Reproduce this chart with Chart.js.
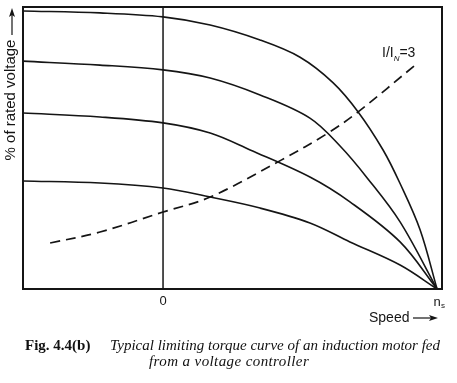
<!DOCTYPE html>
<html>
<head>
<meta charset="utf-8">
<script src="https://cdn.jsdelivr.net/npm/chart.js@4.4.0/dist/chart.umd.min.js"></script>
<style>
  body { margin: 0; background: #fff; }
  #wrap { position: relative; width: 457px; height: 383px; }
  .cap { position: absolute; font-family: "Liberation Serif", serif; font-size: 15px; color: #111; white-space: nowrap; }
  .fig { font-weight: bold; left: 25px; top: 337px; }
  .l1 { font-style: italic; left: 110px; top: 337px; }
  .l2 { font-style: italic; left: 149px; top: 353px; letter-spacing: 0.4px; }
</style>
</head>
<body>
<div id="wrap">
  <canvas id="chart" width="457" height="383"></canvas>
  <div class="cap fig">Fig. 4.4(b)</div>
  <div class="cap l1">Typical limiting torque curve of an induction motor fed</div>
  <div class="cap l2">from a voltage controller</div>
</div>
<script>
// speed as fraction of n_s, torque as % of the plot height
const speedA = [-0.511, -0.23, 0, 0.172, 0.354, 0.5, 0.62, 0.712, 0.803, 0.865, 0.938, 1];
const torqueA = [98.6, 97.9, 96.5, 93.6, 88.3, 82.2, 73.2, 62.8, 49.3, 37.4, 21.0, 0];

const speedB = [-0.511, -0.23, 0, 0.172, 0.354, 0.536, 0.646, 0.745, 0.865, 1];
const torqueB = [80.8, 79.4, 77.7, 74.8, 68.8, 60.6, 50.7, 39.4, 23.8, 0];

const speedC = [-0.511, -0.23, 0, 0.172, 0.318, 0.536, 0.682, 0.865, 1];
const torqueC = [62.4, 61.0, 58.9, 55.3, 49.3, 39.7, 30.9, 16.7, 0];

const speedD = [-0.511, -0.23, 0, 0.172, 0.354, 0.536, 0.682, 0.865, 1];
const torqueD = [38.3, 37.6, 35.8, 32.6, 28.7, 23.4, 16.7, 8.5, 0];

// limiting curve I/I_N = 3
const speedLim = [-0.412, -0.23, 0, 0.172, 0.431, 0.602, 0.712, 0.92];
const torqueLim = [16.3, 20.2, 27.3, 32.6, 45.7, 55.3, 62.8, 79.4];

const xTicks = ['0', 'n'];

const ink = '#151515';

function pts(xs, ys) {
    return xs.map((x, i) => ({ x: x, y: ys[i] }));
}

function curve(xs, ys, dashed) {
    return {
        data: pts(xs, ys),
        showLine: true,
        borderColor: ink,
        borderWidth: dashed ? 1.7 : 1.6,
        borderDash: dashed ? [10, 6] : [],
        pointRadius: 0,
        tension: 0.35,
        fill: false,
    };
}

function arrowHead(ctx, x, y, dir) {
    // dir: 'right' or 'up'
    ctx.beginPath();
    if (dir === 'right') {
        ctx.moveTo(x, y);
        ctx.lineTo(x - 9, y - 3);
        ctx.lineTo(x - 7, y);
        ctx.lineTo(x - 9, y + 3);
    } else {
        ctx.moveTo(x, y);
        ctx.lineTo(x - 3, y + 9);
        ctx.lineTo(x, y + 7);
        ctx.lineTo(x + 3, y + 9);
    }
    ctx.closePath();
    ctx.fill();
}

const decor = {
    id: 'decor',
    afterDraw(chart) {
        const { ctx, chartArea: a, scales } = chart;
        const x0 = scales.x.getPixelForValue(0);
        const xs = scales.x.getPixelForValue(1);
        ctx.save();
        ctx.strokeStyle = ink;
        ctx.fillStyle = ink;

        // frame
        ctx.lineWidth = 2;
        ctx.strokeRect(a.left, a.top, a.right - a.left, a.bottom - a.top);
        // zero-speed line
        ctx.lineWidth = 1.5;
        ctx.beginPath();
        ctx.moveTo(x0, a.top);
        ctx.lineTo(x0, a.bottom);
        ctx.stroke();

        // tick labels
        ctx.font = '13px "Liberation Sans", Arial, sans-serif';
        ctx.textAlign = 'center';
        ctx.textBaseline = 'middle';
        ctx.fillText(xTicks[0], x0, a.bottom + 12);
        ctx.fillText(xTicks[1], xs, a.bottom + 13);
        ctx.font = '8px "Liberation Sans", Arial, sans-serif';
        ctx.fillText('s', xs + 6, a.bottom + 17);

        // x axis title
        ctx.font = '14px "Liberation Sans", Arial, sans-serif';
        ctx.textAlign = 'left';
        ctx.fillText('Speed', 369, 318);
        ctx.lineWidth = 1.2;
        ctx.beginPath();
        ctx.moveTo(413, 318);
        ctx.lineTo(432, 318);
        ctx.stroke();
        arrowHead(ctx, 438, 318, 'right');

        // y axis title
        ctx.save();
        ctx.translate(11, 100);
        ctx.rotate(-Math.PI / 2);
        ctx.font = '15px "Liberation Sans", Arial, sans-serif';
        ctx.textAlign = 'center';
        ctx.fillText('% of rated voltage', 0, 0);
        ctx.restore();
        ctx.beginPath();
        ctx.moveTo(12, 35);
        ctx.lineTo(12, 14);
        ctx.stroke();
        arrowHead(ctx, 12, 8, 'up');

        // curve label I/I_N=3
        ctx.font = '14px "Liberation Sans", Arial, sans-serif';
        ctx.textAlign = 'left';
        ctx.textBaseline = 'alphabetic';
        let tx = 382;
        ctx.fillText('I/I', tx, 57);
        tx += ctx.measureText('I/I').width;
        ctx.font = 'italic 8px "Liberation Sans", Arial, sans-serif';
        ctx.fillText('N', tx, 61);
        tx += ctx.measureText('N').width;
        ctx.font = '14px "Liberation Sans", Arial, sans-serif';
        ctx.fillText('=3', tx, 57);

        ctx.restore();
    }
};

new Chart(document.getElementById('chart').getContext('2d'), {
    type: 'scatter',
    data: {
        datasets: [
            curve(speedA, torqueA, false),
            curve(speedB, torqueB, false),
            curve(speedC, torqueC, false),
            curve(speedD, torqueD, false),
            curve(speedLim, torqueLim, true),
        ]
    },
    options: {
        responsive: false,
        animation: false,
        layout: { padding: { left: 23, right: 15, top: 7, bottom: 94 } },
        plugins: { legend: { display: false }, tooltip: { enabled: false } },
        scales: {
            x: { type: 'linear', min: -0.511, max: 1.018, display: false },
            y: { type: 'linear', min: 0, max: 100, display: false }
        }
    },
    plugins: [decor]
});
</script>
</body>
</html>
